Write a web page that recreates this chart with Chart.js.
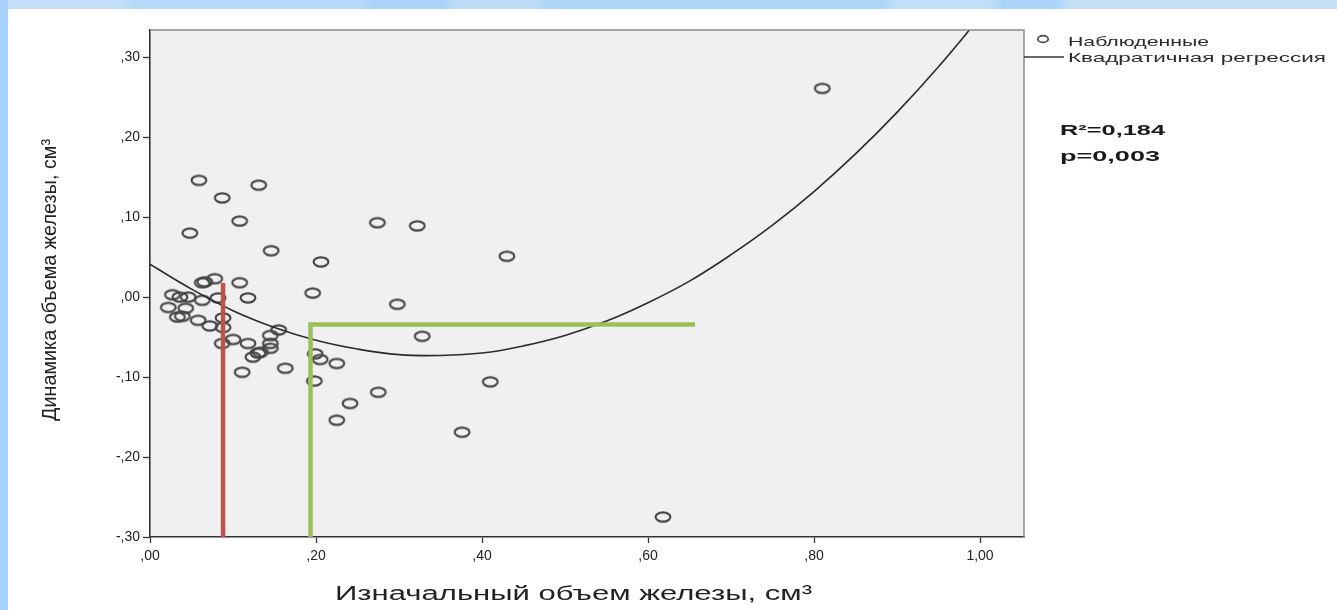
<!DOCTYPE html>
<html>
<head>
<meta charset="utf-8">
<script src="https://cdn.jsdelivr.net/npm/chart.js@4.4.1/dist/chart.umd.min.js"></script>
<style>
  html, body { margin: 0; padding: 0; background: #ffffff; overflow: hidden; }
  #wrap { width: 1337px; height: 610px; position: relative; }
</style>
</head>
<body>
<div id="wrap"><canvas id="c" width="1337" height="610"></canvas></div>
<script>
// Observed cases: initial gland volume (cm³) vs. change in volume (cm³)
const volumeStart = [
  0.810, 0.618, 0.059, 0.131, 0.087, 0.108, 0.048, 0.146, 0.274, 0.322,
  0.430, 0.206, 0.196, 0.298, 0.328, 0.199, 0.205, 0.225, 0.198, 0.410,
  0.275, 0.241, 0.225, 0.376, 0.111, 0.163, 0.063, 0.066, 0.078, 0.108,
  0.118, 0.027, 0.036, 0.046, 0.063, 0.082, 0.022, 0.043, 0.033, 0.039,
  0.058, 0.072, 0.088, 0.088, 0.087, 0.100, 0.118, 0.145, 0.155, 0.145,
  0.145, 0.133, 0.124, 0.130
];
const volumeChange = [
  0.261, -0.275, 0.146, 0.140, 0.124, 0.095, 0.080, 0.058, 0.093, 0.089,
  0.051, 0.044, 0.005, -0.009, -0.049, -0.071, -0.078, -0.083, -0.105, -0.106,
  -0.119, -0.133, -0.154, -0.169, -0.094, -0.089, 0.018, 0.019, 0.023, 0.018,
  -0.001, 0.003, 0.000, 0.000, -0.004, -0.001, -0.013, -0.014, -0.025, -0.024,
  -0.029, -0.036, -0.026, -0.038, -0.058, -0.053, -0.058, -0.048, -0.041, -0.058,
  -0.064, -0.069, -0.075, -0.070
];

// Quadratic regression curve, sampled along x
const curveX = [0.00, 0.05, 0.10, 0.15, 0.20, 0.25, 0.30, 0.35, 0.40, 0.45, 0.50,
                0.55, 0.60, 0.65, 0.70, 0.75, 0.80, 0.85, 0.90, 0.95, 1.00];
const curveY = [0.041, 0.010, -0.017, -0.038, -0.054, -0.065, -0.072, -0.073, -0.070, -0.061, -0.048,
                -0.030, -0.007, 0.020, 0.053, 0.090, 0.132, 0.179, 0.231, 0.288, 0.350];

// Reference guide lines
const redGuideX = [0.088, 0.088];
const redGuideY = [-0.30, 0.0175];
const greenGuideX = [0.1934, 0.1934, 0.6566];
const greenGuideY = [-0.30, -0.0344, -0.0344];

// Axis ticks
const xTicks = [0.0, 0.2, 0.4, 0.6, 0.8, 1.0];
const xTickLabels = [',00', ',20', ',40', ',60', ',80', '1,00'];
const yTicks = [-0.3, -0.2, -0.1, 0.0, 0.1, 0.2, 0.3];
const yTickLabels = ['-,30', '-,20', '-,10', ',00', ',10', ',20', ',30'];

const legendItems = ['Наблюденные', 'Квадратичная регрессия'];
const statLines = ['R²=0,184', 'p=0,003'];
const xTitle = 'Изначальный объем железы, см³';
const yTitle = 'Динамика объема железы, см³';

const zip = (xs, ys) => xs.map((x, i) => ({ x: x, y: ys[i] }));

// Hollow oval marker
function makeOval(w, h, rx, ry, lw, color) {
  const cv = document.createElement('canvas');
  cv.width = w; cv.height = h;
  const g = cv.getContext('2d');
  g.strokeStyle = color;
  g.lineWidth = lw;
  g.beginPath();
  g.ellipse(w / 2, h / 2, rx, ry, 0, 0, Math.PI * 2);
  g.stroke();
  return cv;
}
const ovalMarker = makeOval(20, 14, 7.4, 4.6, 2.1, '#454545');

// Text squeezed/stretched to a given run length
function fitText(ctx, text, x, y, width, font, color, sy) {
  ctx.save();
  ctx.font = font;
  ctx.fillStyle = color;
  ctx.textAlign = 'left';
  ctx.textBaseline = 'alphabetic';
  const w = ctx.measureText(text).width;
  ctx.translate(x, y);
  ctx.scale(width / w, sy || 1);
  ctx.fillText(text, 0, 0);
  ctx.restore();
}

const decorPlugin = {
  id: 'decor',
  beforeDraw(chart) {
    const ctx = chart.ctx;
    const a = chart.chartArea;
    ctx.save();
    ctx.fillStyle = '#ffffff';
    ctx.fillRect(0, 0, chart.width, chart.height);
    // blue page edges
    const grad = ctx.createLinearGradient(0, 0, chart.width, 0);
    grad.addColorStop(0.00, '#c4e0fa');
    grad.addColorStop(0.09, '#c2def9');
    grad.addColorStop(0.10, '#b8dafa');
    grad.addColorStop(0.27, '#b8dafa');
    grad.addColorStop(0.28, '#a9d4f8');
    grad.addColorStop(0.33, '#a9d4f8');
    grad.addColorStop(0.34, '#bcdcf8');
    grad.addColorStop(0.40, '#bcdcf8');
    grad.addColorStop(0.41, '#add6f8');
    grad.addColorStop(0.66, '#add6f8');
    grad.addColorStop(0.67, '#c0e0fa');
    grad.addColorStop(0.74, '#c0e0fa');
    grad.addColorStop(0.75, '#a9d4f8');
    grad.addColorStop(0.79, '#a9d4f8');
    grad.addColorStop(0.80, '#c4e0f8');
    grad.addColorStop(1.00, '#c4e0f8');
    ctx.fillStyle = grad;
    ctx.fillRect(0, 0, chart.width, 9);
    ctx.fillStyle = '#a9d2f8';
    ctx.fillRect(0, 0, 8, chart.height);
    // plot panel
    ctx.fillStyle = '#f0f0f0';
    ctx.fillRect(a.left, a.top, a.right - a.left, a.bottom - a.top);
    ctx.restore();
  },
  afterDatasetsDraw(chart) {
    const ctx = chart.ctx;
    const a = chart.chartArea;
    ctx.save();
    ctx.strokeStyle = '#8c8c8c';
    ctx.lineWidth = 1.5;
    ctx.beginPath();
    ctx.moveTo(a.left, a.top);
    ctx.lineTo(a.right, a.top);
    ctx.lineTo(a.right, a.bottom);
    ctx.stroke();
    ctx.restore();
  },
  afterDraw(chart) {
    const ctx = chart.ctx;
    const a = chart.chartArea;
    ctx.save();
    // legend
    ctx.drawImage(makeOval(14, 10, 5.2, 3.4, 1.7, '#444444'), 1036, 34);
    ctx.strokeStyle = '#333333';
    ctx.lineWidth = 1.5;
    ctx.beginPath();
    ctx.moveTo(a.right, 57);
    ctx.lineTo(1064, 57);
    ctx.stroke();
    fitText(ctx, legendItems[0], 1068, 46, 141, '13px "Liberation Sans"', '#2a2a2a');
    fitText(ctx, legendItems[1], 1068, 62, 258, '13px "Liberation Sans"', '#2a2a2a');
    // model statistics
    fitText(ctx, statLines[0], 1060, 135, 105, 'bold 15px "Liberation Sans"', '#1a1a1a');
    fitText(ctx, statLines[1], 1060, 161, 100, 'bold 15px "Liberation Sans"', '#1a1a1a');
    // axis titles
    fitText(ctx, xTitle, 335, 600, 477, '20px "Liberation Sans"', '#222222');
    ctx.save();
    ctx.translate(56, 421);
    ctx.rotate(-Math.PI / 2);
    fitText(ctx, yTitle, 0, 0, 282, '17px "Liberation Sans"', '#222222', 1.2);
    ctx.restore();
    ctx.restore();
  }
};

new Chart(document.getElementById('c'), {
  type: 'scatter',
  data: {
    datasets: [
      {
        label: legendItems[0],
        data: zip(volumeStart, volumeChange),
        pointStyle: ovalMarker,
        pointRadius: 7,
        showLine: false,
        order: 4
      },
      {
        label: legendItems[1],
        data: zip(curveX, curveY),
        showLine: true,
        pointRadius: 0,
        borderColor: '#2b2b2b',
        borderWidth: 1.6,
        tension: 0.4,
        fill: false,
        order: 3
      },
      {
        label: 'red',
        data: zip(redGuideX, redGuideY),
        showLine: true,
        pointRadius: 0,
        borderColor: '#c4504c',
        borderWidth: 4.5,
        borderCapStyle: 'butt',
        tension: 0,
        order: 2
      },
      {
        label: 'green',
        data: zip(greenGuideX, greenGuideY),
        showLine: true,
        pointRadius: 0,
        borderColor: '#9bc057',
        borderWidth: 4.5,
        borderCapStyle: 'butt',
        borderJoinStyle: 'miter',
        tension: 0,
        order: 1
      }
    ]
  },
  options: {
    responsive: false,
    animation: false,
    devicePixelRatio: 1,
    events: [],
    layout: { padding: { left: 0, right: 313, top: 30, bottom: 0 } },
    plugins: { legend: { display: false }, tooltip: { enabled: false } },
    scales: {
      x: {
        type: 'linear',
        min: 0,
        max: 1.053,
        afterBuildTicks: s => { s.ticks = xTicks.map(v => ({ value: v })); },
        afterFit: s => { s.height = 73; },
        ticks: {
          autoSkip: false,
          maxRotation: 0,
          padding: 5,
          color: '#222222',
          font: { family: 'Liberation Sans', size: 14 },
          callback: (v, i) => xTickLabels[i]
        },
        grid: { display: true, drawOnChartArea: false, drawTicks: true, tickLength: 6, tickColor: '#333333', tickWidth: 1.3 },
        border: { display: true, color: '#333333', width: 1.6 },
        title: { display: false }
      },
      y: {
        type: 'linear',
        min: -0.30,
        max: 0.334,
        afterBuildTicks: s => { s.ticks = yTicks.map(v => ({ value: v })); },
        afterFit: s => { s.width = 150; },
        ticks: {
          autoSkip: false,
          padding: 3,
          color: '#222222',
          font: { family: 'Liberation Sans', size: 14 },
          callback: (v, i) => yTickLabels[i]
        },
        grid: { display: true, drawOnChartArea: false, drawTicks: true, tickLength: 7, tickColor: '#333333', tickWidth: 1.3 },
        border: { display: true, color: '#333333', width: 1.6 },
        title: { display: false }
      }
    }
  },
  plugins: [decorPlugin]
});
</script>
</body>
</html>
